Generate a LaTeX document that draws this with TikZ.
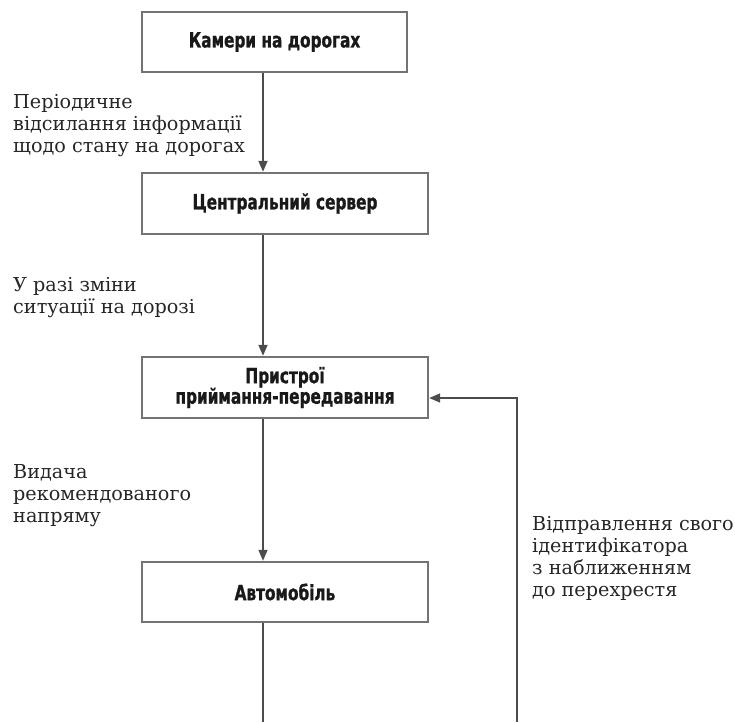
\documentclass[tikz,border=0pt]{standalone}
\usepackage{fontspec}
\setmainfont{DejaVu Serif}
\newfontfamily\boxfont{DejaVu Sans Condensed}[FakeStretch=0.81, FakeBold=1]
\usetikzlibrary{arrows.meta}
\tikzset{
  x=1pt, y=-1pt,
  box/.style={draw=black!55, line width=2.4pt, fill=white, inner sep=0pt,
    font=\boxfont\bfseries\fontsize{21}{20.5}\selectfont, align=center, text=black!90},
  lbl/.style={anchor=north west, inner sep=0pt, align=left,
    font=\fontsize{19.2}{22}\selectfont, text=black!85},
  link/.style={draw=black!70, line width=1.6pt},
  arr/.style={link, -{Triangle[length=11pt,width=9pt]}},
}
\begin{document}
\begin{tikzpicture}
\useasboundingbox (0,0) rectangle (735,722);
\coordinate (vx) at (263,0);
\node[box, minimum width=265pt, minimum height=60pt] (cam) at (274.5,42) {Камери на дорогах};
\node[box, minimum width=286pt, minimum height=61pt] (srv) at (285,203.5) {Центральний сервер};
\node[box, minimum width=286pt, minimum height=61pt] (dev) at (285,387.5) {Пристрої\\приймання-передавання};
\node[box, minimum width=286pt, minimum height=60pt] (car) at (285,592) {Автомобіль};
\coordinate (endL) at (263,722);
\coordinate (endR) at (517,722);
\coordinate (turn) at (517,398);
\draw[arr] (cam.south -| vx) -- (srv.north -| vx);
\draw[arr] (srv.south -| vx) -- (dev.north -| vx);
\draw[arr] (dev.south -| vx) -- (car.north -| vx);
\draw[link] (car.south -| vx) -- (endL);
\draw[arr] (endR) -- (turn) -- (turn -| dev.east);
\node[lbl] (l1) at (13,94) {Періодичне\\відсилання інформації\\щодо стану на дорогах};
\node[lbl] (l2) at (13,277) {У разі зміни\\ситуації на дорозі};
\node[lbl] (l3) at (13,464) {Видача\\рекомендованого\\напряму};
\node[lbl] (l4) at (532,516) {Відправлення свого\\ідентифікатора\\з наближенням\\до перехрестя};
\end{tikzpicture}
\end{document}
